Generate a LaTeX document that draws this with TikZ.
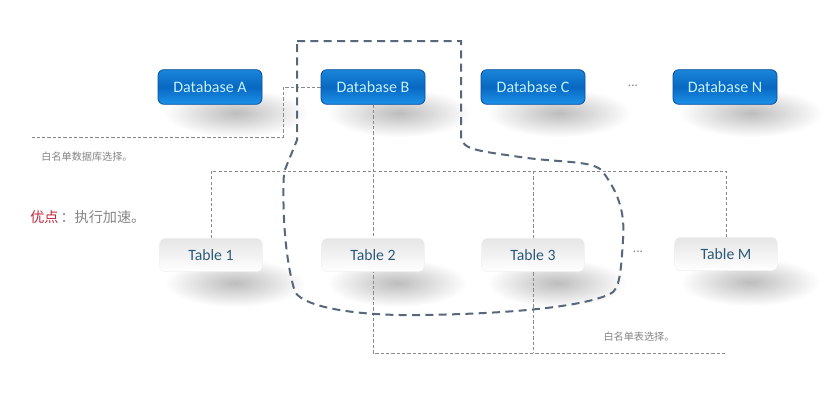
\documentclass[tikz,border=0pt]{standalone}
\usepackage{fontspec}
\setmainfont{Carlito}
\newfontfamily\cjk{Noto Sans CJK SC}
\definecolor{dbtext}{HTML}{C4F2FF}
\definecolor{dbtop}{HTML}{1A86DA}
\definecolor{dbmid}{HTML}{0868C2}
\definecolor{dbbot}{HTML}{1C92EA}
\definecolor{dbedge}{HTML}{0A4F9A}
\definecolor{tbtext}{HTML}{2B5A78}
\definecolor{thinline}{HTML}{8A8A8A}
\definecolor{bigline}{HTML}{56687A}
\definecolor{notegray}{HTML}{858585}
\definecolor{notered}{HTML}{C0283A}
\pgfdeclarelayer{bg}
\pgfdeclarelayer{lines}
\pgfsetlayers{bg,lines,main}
\tikzset{
  dbbox/.style={draw=dbedge, line width=0.6pt, rounded corners=4.5pt,
    minimum width=78pt, minimum height=26pt, inner sep=0pt,
    top color=dbtop, bottom color=dbbot, middle color=dbmid,
    text=dbtext, font=\fontsize{12}{14}\selectfont},
  tbbox/.style={draw=black!6, line width=0.3pt, rounded corners=4pt,
    minimum width=77pt, minimum height=25pt, inner sep=0pt,
    top color=black!10, bottom color=white,
    text=tbtext, font=\fontsize{11.8}{14}\selectfont},
  softshadow/.style={inner color=black!26, outer color=white},
  thin/.style={draw=thinline, line width=0.6pt, dash pattern=on 2.4pt off 1.6pt},
  big/.style={draw=bigline, line width=1.5pt, dash pattern=on 6pt off 4pt},
  note/.style={text=notegray, font=\cjk\fontsize{7.6}{9}\selectfont, inner sep=0pt},
  dots/.style={text=notegray, font=\fontsize{10}{12}\selectfont, inner sep=0pt}
}
\begin{document}
\begin{tikzpicture}[x=0.75pt, y=-0.75pt]
\useasboundingbox (0,0) rectangle (830,407);
% database nodes
\node[dbbox] (A) at (210,87) {Database A};
\node[dbbox] (B) at (373,87) {Database B};
\node[dbbox] (C) at (533,87) {Database C};
\node[dbbox] (N) at (725,87) {Database N};
\node[dots] (d1) at (633,86) {...};
% table nodes
\node[tbbox] (T1) at (211,255) {Table 1};
\node[tbbox] (T2) at (373,255) {Table 2};
\node[tbbox] (T3) at (533,255) {Table 3};
\node[tbbox] (TM) at (726,254) {Table M};
\node[dots] (d2) at (638,252) {...};
% notes
\node[note] (n1) at (87,157) {白名单数据库选择。};
\node[note] (n2) at (639,337) {白名单表选择。};
\node[anchor=west, inner sep=0pt, font=\cjk\fontsize{10.6}{13}\selectfont] (adv) at (30,217)
  {\textcolor{notered}{优点}\kern1.5pt\textcolor{notegray}{：执行加速。}};
% background and shadows
\begin{pgfonlayer}{bg}
\fill[white] (0,0) rectangle (830,407);
\foreach \n in {A,B,C,N}{
  \shade[softshadow] ([shift={(26,26)}]\n.center) ellipse [x radius=72, y radius=24];
}
\foreach \n in {T1,T2,T3,TM}{
  \shade[softshadow] ([shift={(24,28)}]\n.center) ellipse [x radius=70, y radius=24];
}
\end{pgfonlayer}
% thin dashed connectors
\coordinate (k1) at (283,87);
\coordinate (k2) at (283,137);
\coordinate (k3) at (32,137);
\coordinate (hy) at (0,171);
\coordinate (by) at (0,353);
\begin{pgfonlayer}{lines}
\draw[thin] (B.west) -- (k1) -- (k2) -- (k3);
\draw[thin] (B.south) -- (B.south |- by) -- (TM.south |- by);
\draw[thin] (T1.north) -- (T1.north |- hy) -- (TM.north |- hy) -- (TM.north);
\draw[thin] (T3.north |- hy) -- (T3.south |- by);
\end{pgfonlayer}
% big dashed boundary
\draw[big] (297,41) -- (461,41) -- (461,137)
  .. controls (462,150) and (480,151) .. (520,157)
  .. controls (560,163) and (595,160) .. (603,172)
  .. controls (620,195) and (625,215) .. (623,240)
  .. controls (621,270) and (620,290) .. (610,294)
  .. controls (580,308) and (500,314) .. (420,315)
  .. controls (360,316) and (305,308) .. (295,292)
  .. controls (285,260) and (282,210) .. (284,172)
  -- (297,140) -- cycle;
\end{tikzpicture}
\end{document}
